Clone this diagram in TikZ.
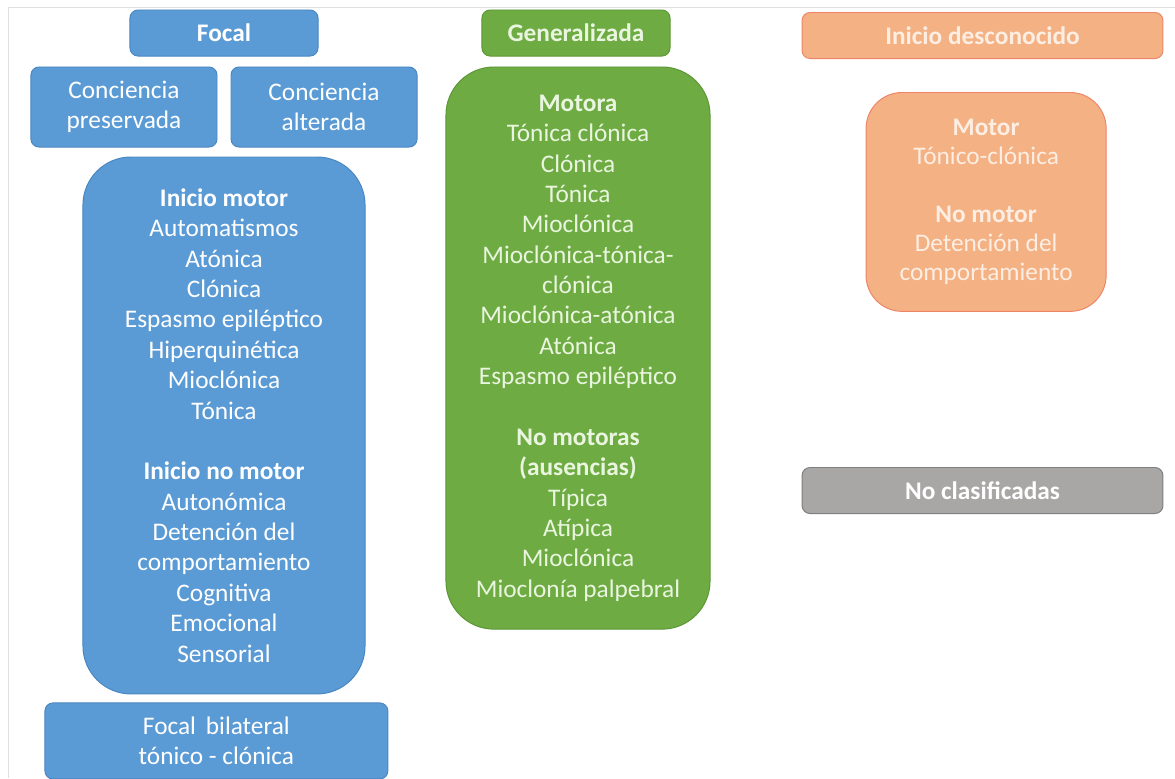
\documentclass[tikz,border=0pt]{standalone}
\usepackage{fontspec}
\setmainfont{Carlito}
\usepackage{xcolor}
\usepackage{tikz}
\usetikzlibrary{shapes, positioning}

\definecolor{focalfill}{HTML}{5B9BD5}
\definecolor{focaldraw}{HTML}{4A87C2}
\definecolor{genfill}{HTML}{6EAC43}
\definecolor{gendraw}{HTML}{5C9636}
\definecolor{genText}{HTML}{EAF5E0}
\definecolor{unkfill}{HTML}{F4B183}
\definecolor{unkdraw}{HTML}{EE8468}
\definecolor{unkText}{HTML}{FDEEE3}
\definecolor{ncfill}{HTML}{A9A6A6}
\definecolor{ncdraw}{HTML}{7F7F7F}

\begin{document}
\begin{tikzpicture}[
        x=0.025cm, y=-0.025cm,
        node distance=0.25cm,
        txt/.style={align=center, font=\fontsize{18}{21.6}\selectfont, inner sep=0pt},
        head_box/.style={txt, rectangle, rounded corners=0.2cm, draw, line width=0.7pt, minimum width=4.7cm, minimum height=1.15cm},
        sub_box/.style={txt, rectangle, rounded corners=0.2cm, draw, line width=0.7pt, minimum width=4.65cm, minimum height=2cm},
        big_box/.style={txt, rectangle, rounded corners=1.2cm, draw, line width=0.7pt},
        focal/.style={fill=focalfill, draw=focaldraw, text=white},
        gen/.style={fill=genfill, draw=gendraw, text=genText},
        unk/.style={fill=unkfill, draw=unkdraw, text=unkText},
        nc/.style={fill=ncfill, draw=ncdraw, text=white}
    ]
    \useasboundingbox (0,0) rectangle (1175,778);
    \draw[black!12, line width=0.7pt] (8,778) -- (8,7) -- (1175,7);
    \node[head_box, focal] (focal_head) at (224,33) {\textbf{Focal}};
    \node[sub_box, focal, below=of focal_head, xshift=-2.5cm] (conc_pres) {Conciencia\\preservada};
    \node[sub_box, focal, below=of focal_head, xshift=2.5cm] (conc_alt) {Conciencia\\alterada};
    \node[big_box, focal, anchor=north, minimum width=7.05cm, minimum height=13.42cm, yshift=-0.225cm] (focal_types) at (focal_head |- conc_pres.south) {\textbf{Inicio motor}\\Automatismos\\Atónica\\Clónica\\Espasmo epiléptico\\Hiperquinética\\Mioclónica\\Tónica\\[21.6pt]\textbf{Inicio no motor}\\Autonómica\\Detención del\\comportamiento\\Cognitiva\\Emocional\\Sensorial};
    \node[head_box, focal, below=0.2cm of focal_types, xshift=-0.19cm, minimum width=8.57cm, minimum height=1.9cm] (focal_bilateral) {Focal\, bilateral\\tónico - clónica};
    \node[head_box, gen] (gen_head) at (576,33) {\textbf{Generalizada}};
    \node[big_box, gen, below=of gen_head, xshift=0.05cm, minimum width=6.6cm, minimum height=14.05cm] (gen_types) {\textbf{Motora}\\Tónica clónica\\Clónica\\Tónica\\Mioclónica\\Mioclónica-tónica-\\clónica\\Mioclónica-atónica\\Atónica\\Espasmo epiléptico\\[21.6pt]\textbf{No motoras}\\\textbf{(ausencias)}\\Típica\\Atípica\\Mioclónica\\Mioclonía palpebral};
    \node[head_box, unk, minimum width=9.02cm] (unk_head) at (982.5,35.5) {\textbf{Inicio desconocido}};
    \node[big_box, unk, below=0.825cm of unk_head, xshift=0.09cm, rounded corners=0.9cm, minimum width=6cm, minimum height=5.47cm, font=\fontsize{18}{20.6}\selectfont] (unk_types) {\textbf{Motor}\\Tónico-clónica\\[20.6pt]\textbf{No motor}\\Detención del\\comportamiento};
    \node[head_box, nc, minimum width=9.02cm] (no_clas) at (982.5,490.5) {\textbf{No clasificadas}};
\end{tikzpicture}
\end{document}
